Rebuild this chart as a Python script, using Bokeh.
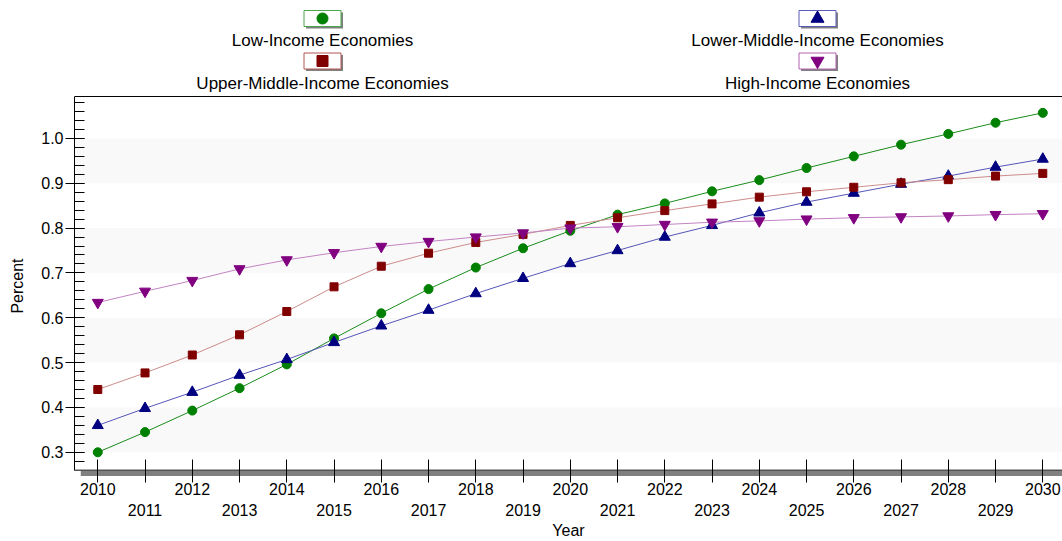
from bokeh.plotting import figure
from bokeh.models import (Range1d, FixedTicker, SingleIntervalTicker, LinearAxis,
                          Span, BoxAnnotation, PrintfTickFormatter)
from bokeh.layouts import column
from bokeh.embed import file_html
from bokeh.resources import INLINE
from bokeh.core.properties import value

# ---------------- data ----------------
years = list(range(2010, 2031))
low_income = [0.300, 0.345, 0.393, 0.443, 0.496, 0.554, 0.610, 0.664, 0.712, 0.755,
              0.794, 0.830, 0.855, 0.882, 0.907, 0.934, 0.960, 0.986, 1.010, 1.035, 1.057]
lower_middle = [0.360, 0.398, 0.434, 0.472, 0.507, 0.545, 0.582, 0.617, 0.654, 0.688,
                0.721, 0.750, 0.780, 0.806, 0.834, 0.858, 0.878, 0.898, 0.916, 0.936, 0.954]
upper_middle = [0.440, 0.477, 0.517, 0.562, 0.614, 0.669, 0.715, 0.744, 0.768, 0.786,
                0.806, 0.823, 0.839, 0.854, 0.869, 0.881, 0.891, 0.901, 0.908, 0.916, 0.922]
high_income = [0.634, 0.659, 0.683, 0.709, 0.729, 0.745, 0.759, 0.770, 0.780, 0.789,
               0.800, 0.803, 0.808, 0.813, 0.816, 0.820, 0.823, 0.825, 0.827, 0.830, 0.832]
series_names = ["Low-Income Economies", "Lower-Middle-Income Economies",
                "Upper-Middle-Income Economies", "High-Income Economies"]
band_ranges = [(0.3, 0.4), (0.5, 0.6), (0.7, 0.8), (0.9, 1.0)]
even_years = [y for y in years if y % 2 == 0]
odd_years = [y for y in years if y % 2 == 1]

FONT = value("Liberation Sans")

# ---------------- styles ----------------
styles = [
    # marker, marker colour, line colour, box border, plot size, legend size
    ("circle", "#008000", "#1a8c1a", "#4aa64a", 9, 11),
    ("triangle", "#000080", "#5656b8", "#5a5ab8", 11, 13),
    ("square", "#800000", "#cc8c8c", "#b05454", 8, 11),
    ("inverted_triangle", "#800080", "#c283c2", "#b060b0", 11, 13),
]
values_list = [low_income, lower_middle, upper_middle, high_income]

W = 1062
LEFT = 74

# ---------------- legend figure ----------------
LH = 95
lg = figure(width=W, height=LH, x_range=Range1d(LEFT, W), y_range=Range1d(LH, 0),
            toolbar_location=None, output_backend="svg", min_border=0,
            min_border_left=LEFT, x_axis_type=None, y_axis_type=None,
            outline_line_color=None)
lg.grid.visible = False

col_x = [322, 817, 322, 817]
box_y = [18, 18, 60.5, 60.5]
text_y = [40, 40, 83, 83]
bw, bh = 37, 16
for i, (name, st) in enumerate(zip(series_names, styles)):
    marker, mcol, lcol, bcol, psize, lsize = st
    cx, cy = col_x[i], box_y[i]
    lg.quad(left=[cx - bw / 2 + 2], right=[cx + bw / 2 + 2], top=[cy - bh / 2 + 2],
            bottom=[cy + bh / 2 + 2], fill_color="#808080", line_color=None)
    lg.quad(left=[cx - bw / 2], right=[cx + bw / 2], top=[cy - bh / 2],
            bottom=[cy + bh / 2], fill_color="white", line_color=bcol, line_width=1)
    lg.scatter(x=[cx], y=[cy], marker=marker, size=lsize, fill_color=mcol, line_color=mcol)
lg.text(x=col_x, y=text_y, text=series_names, text_font=FONT, text_font_size=value("17px"),
        text_align="center", text_baseline="middle", text_color="black")

# ---------------- main figure ----------------
p = figure(width=W, height=446, x_range=Range1d(2009.507, 2030.417),
           y_range=Range1d(0.2460, 1.0957), toolbar_location=None, output_backend="svg",
           min_border_left=LEFT, min_border_right=0, min_border_top=0, min_border_bottom=0,
           outline_line_color=None, background_fill_color="white", border_fill_color="white")
p.xgrid.grid_line_color = None
p.ygrid.grid_line_color = None

for b, t in band_ranges:
    p.add_layout(BoxAnnotation(bottom=b, top=t, fill_color="#f9f9f9", fill_alpha=1.0,
                               line_color=None, level="underlay"))
# shadow under the x axis line
p.add_layout(BoxAnnotation(left=2009.64, bottom=0.2471, top=0.2583, fill_color="#808080",
                           fill_alpha=1.0, line_color=None, level="underlay"))
p.add_layout(Span(location=0.2601, dimension="width", line_color="black", line_width=1))
p.add_layout(Span(location=1.0935, dimension="width", line_color="black", line_width=1))

for vals, st in zip(values_list, styles):
    marker, mcol, lcol, bcol, psize, lsize = st
    p.line(years, vals, line_color=lcol, line_width=1)
    p.scatter(years, vals, marker=marker, size=psize, fill_color=mcol, line_color=mcol)

# x axis (even labels + all ticks)
ax = p.xaxis[0]
ax.ticker = FixedTicker(ticks=years)
ax.major_label_overrides = {y: "" for y in odd_years}
ax.axis_line_color = None
ax.major_tick_in = 17
ax.major_tick_out = 6
ax.major_tick_line_color = "black"
ax.minor_tick_line_color = None
ax.major_label_standoff = 0
ax.major_label_text_font = "Liberation Sans"
ax.major_label_text_font_size = "16px"
ax.major_label_text_color = "black"

# second x axis (odd labels + axis title)
ax2 = LinearAxis(ticker=FixedTicker(ticks=odd_years), axis_line_color=None,
                 major_tick_line_color=None, minor_tick_line_color=None,
                 major_tick_in=0, major_tick_out=0, major_label_standoff=6,
                 major_label_text_font="Liberation Sans", major_label_text_font_size="16px",
                 major_label_text_color="black",
                 axis_label="Year", axis_label_standoff=3,
                 axis_label_text_font="Liberation Sans", axis_label_text_font_size="16px",
                 axis_label_text_font_style="normal", axis_label_text_color="black")
p.add_layout(ax2, "below")

# y axis
ay = p.yaxis[0]
ay.ticker = SingleIntervalTicker(interval=0.1, num_minor_ticks=5)
ay.formatter = PrintfTickFormatter(format="%.1f")
ay.bounds = (0.2601, 1.0935)
ay.axis_line_color = "black"
ay.major_tick_in = 10
ay.major_tick_out = 9
ay.minor_tick_in = 10
ay.minor_tick_out = 0
ay.major_tick_line_color = "black"
ay.minor_tick_line_color = "black"
ay.major_label_standoff = 2
ay.major_label_text_font = "Liberation Sans"
ay.major_label_text_font_size = "16px"
ay.major_label_text_color = "black"
ay.axis_label = "Percent"
ay.axis_label_standoff = 12
ay.axis_label_text_font = "Liberation Sans"
ay.axis_label_text_font_size = "16px"
ay.axis_label_text_font_style = "normal"
ay.axis_label_text_color = "black"

layout = column(lg, p, spacing=0)
open("out.html", "w").write(file_html(layout, INLINE))
